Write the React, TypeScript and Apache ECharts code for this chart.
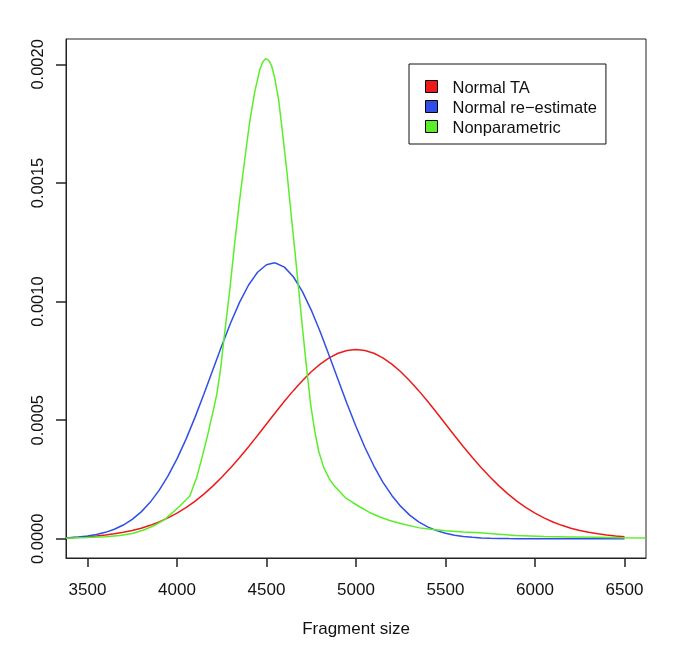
import React, { useEffect, useRef } from "react";
import * as echarts from "echarts";

const seriesNames = ["Normal TA", "Normal re\u2212estimate", "Nonparametric"];
const seriesColors = ["#ee1a1a", "#2f4fe6", "#5aee28"];

const xTicks = [3500, 4000, 4500, 5000, 5500, 6000, 6500];
const yTicks = [0, 0.0005, 0.001, 0.0015, 0.002];

const normalTA: [number, number][] = [
  [3380, 0.0000042], [3400, 0.0000048], [3450, 0.0000065], [3500, 0.0000089],
  [3550, 0.0000119], [3600, 0.0000158], [3650, 0.0000208], [3700, 0.0000272],
  [3750, 0.0000351], [3800, 0.0000448], [3850, 0.0000567], [3900, 0.000071],
  [3950, 0.000088], [4000, 0.000108], [4050, 0.0001313], [4100, 0.000158],
  [4150, 0.0001881], [4200, 0.000222], [4250, 0.0002591], [4300, 0.0002995],
  [4350, 0.0003428], [4400, 0.000388], [4450, 0.0004358], [4500, 0.000484],
  [4550, 0.0005322], [4600, 0.0005795], [4650, 0.0006246], [4700, 0.0006665],
  [4750, 0.0007042], [4800, 0.0007366], [4850, 0.0007629], [4900, 0.0007822],
  [4950, 0.000794], [5000, 0.000798], [5050, 0.000794], [5100, 0.0007822],
  [5150, 0.0007629], [5200, 0.0007366], [5250, 0.0007042], [5300, 0.0006665],
  [5350, 0.0006246], [5400, 0.0005795], [5450, 0.0005322], [5500, 0.000484],
  [5550, 0.0004358], [5600, 0.000388], [5650, 0.0003428], [5700, 0.0002995],
  [5750, 0.0002591], [5800, 0.000222], [5850, 0.0001881], [5900, 0.000158],
  [5950, 0.0001313], [6000, 0.000108], [6050, 0.000088], [6100, 0.000071],
  [6150, 0.0000567], [6200, 0.0000448], [6250, 0.0000351], [6300, 0.0000272],
  [6350, 0.0000208], [6400, 0.0000158], [6450, 0.0000119], [6500, 0.0000089],
];

const normalReEstimate: [number, number][] = [
  [3380, 0.0000038], [3400, 0.0000046], [3450, 0.0000075], [3500, 0.0000117],
  [3550, 0.0000181], [3600, 0.0000272], [3650, 0.0000401], [3700, 0.000058],
  [3750, 0.000082], [3800, 0.0001135], [3850, 0.0001537], [3900, 0.000204],
  [3950, 0.0002649], [4000, 0.0003368], [4050, 0.0004192], [4100, 0.0005108],
  [4150, 0.0006093], [4200, 0.0007116], [4250, 0.0008135], [4300, 0.0009105],
  [4350, 0.0009976], [4400, 0.00107], [4450, 0.0011237], [4500, 0.0011551],
  [4540, 0.001163], [4550, 0.0011625], [4600, 0.0011453], [4650, 0.0011047],
  [4700, 0.0010431], [4750, 0.0009643], [4800, 0.0008726], [4850, 0.0007731],
  [4900, 0.0006704], [4950, 0.0005693], [5000, 0.0004732], [5050, 0.000385],
  [5100, 0.0003067], [5150, 0.0002392], [5200, 0.0001827], [5250, 0.0001365],
  [5300, 0.0000999], [5350, 0.0000716], [5400, 0.0000502], [5450, 0.0000344],
  [5500, 0.0000232], [5550, 0.0000152], [5600, 0.0000098], [5650, 0.0000062],
  [5700, 0.0000038], [5750, 0.0000023], [5800, 0.0000014], [5850, 0.0000008],
  [5900, 0.0000004], [6000, 0.0000001], [6100, 0.0], [6200, 0.0], [6300, 0.0],
  [6400, 0.0], [6500, 0.0],
];

const nonparametric: [number, number][] = [
  [3380, 0.000002], [3500, 0.000005], [3600, 0.000009], [3681, 0.000014],
  [3750, 0.000022], [3810, 0.000036], [3870, 0.000055], [3931, 0.000081],
  [4015, 0.000137], [4071, 0.000179], [4110, 0.000258], [4144, 0.000355],
  [4172, 0.000439], [4200, 0.000532], [4222, 0.000608], [4243, 0.000713],
  [4265, 0.00086], [4295, 0.00105], [4322, 0.001243], [4350, 0.001429],
  [4378, 0.001597], [4406, 0.001757], [4434, 0.001883], [4462, 0.001976],
  [4479, 0.00201], [4495, 0.002024], [4512, 0.002018], [4529, 0.001993],
  [4546, 0.001942], [4568, 0.00185], [4591, 0.001702], [4613, 0.001555],
  [4635, 0.001387], [4658, 0.001218], [4680, 0.00105], [4702, 0.000881],
  [4725, 0.000713], [4747, 0.000565], [4770, 0.000452], [4792, 0.000368],
  [4820, 0.0003], [4853, 0.00025], [4880, 0.000222], [4909, 0.000199],
  [4940, 0.000174], [4981, 0.000153], [5020, 0.000135], [5076, 0.000111],
  [5130, 0.000093], [5188, 0.000077], [5260, 0.000062], [5355, 0.000046],
  [5430, 0.000039], [5500, 0.000034], [5600, 0.000029], [5690, 0.000025],
  [5800, 0.000019], [5895, 0.000014], [6050, 0.00001], [6200, 0.000008],
  [6350, 0.000006], [6489, 0.000004], [6617, 0.000003],
];

const FONT = "'Liberation Sans', Arial, Helvetica, sans-serif";

export default function App() {
  const ref = useRef<HTMLDivElement>(null);
  useEffect(() => {
    if (!ref.current) return;
    const chart = echarts.init(ref.current, null, { renderer: "svg" });
    const datasets = [normalTA, normalReEstimate, nonparametric];
    chart.setOption({
      animation: false,
      textStyle: { fontFamily: FONT },
      grid: {
        left: 66,
        top: 39,
        right: 39,
        bottom: 102,
        show: true,
        borderColor: "#222",
        borderWidth: 1,
        containLabel: false,
        outerBoundsMode: "none",
      },
      legend: {
        orient: "vertical",
        left: 409,
        top: 64,
        padding: [14, 9, 9, 16],
        itemGap: 3,
        itemWidth: 12,
        itemHeight: 12,
        icon: "rect",
        borderColor: "#111",
        borderWidth: 1,
        backgroundColor: "#fff",
        itemStyle: { borderColor: "#000", borderWidth: 1 },
        textStyle: {
          fontFamily: FONT,
          fontSize: 16.5,
          color: "#111",
          lineHeight: 17,
          padding: [0, 0, 0, 10],
        },
        selectedMode: false,
        data: seriesNames,
      },
      xAxis: {
        type: "value",
        min: 3380,
        max: 6620,
        name: "Fragment size",
        nameLocation: "middle",
        nameGap: 62,
        nameTextStyle: { fontFamily: FONT, fontSize: 17, color: "#111" },
        axisLine: { show: true, onZero: false, lineStyle: { color: "#222" } },
        splitLine: { show: false },
        axisTick: {
          show: true,
          length: 9,
          customValues: xTicks,
          lineStyle: { color: "#222", width: 1.5 },
        },
        axisLabel: {
          customValues: xTicks,
          margin: 23,
          fontFamily: FONT,
          fontSize: 17,
          color: "#111",
          formatter: (v: number) => String(v),
        },
      },
      yAxis: {
        type: "value",
        min: -0.000081,
        max: 0.002107,
        axisLine: { show: true, onZero: false, lineStyle: { color: "#222" } },
        splitLine: { show: false },
        axisTick: {
          show: true,
          length: 10,
          customValues: yTicks,
          lineStyle: { color: "#222", width: 1.5 },
        },
        axisLabel: {
          customValues: yTicks,
          rotate: 90,
          margin: 21,
          fontFamily: FONT,
          fontSize: 16.5,
          color: "#111",
          formatter: (v: number) => v.toFixed(4),
        },
      },
      series: seriesNames.map((name, i) => ({
        name,
        type: "line",
        data: datasets[i],
        showSymbol: false,
        symbol: "none",
        smooth: false,
        color: seriesColors[i],
        itemStyle: { color: seriesColors[i] },
        lineStyle: { color: seriesColors[i], width: 1.5 },
        z: 2 + i,
      })),
    });
    return () => chart.dispose();
  }, []);
  return (
    <div
      ref={ref}
      style={{ position: "fixed", left: 0, top: 0, width: 685, height: 660 }}
    />
  );
}
